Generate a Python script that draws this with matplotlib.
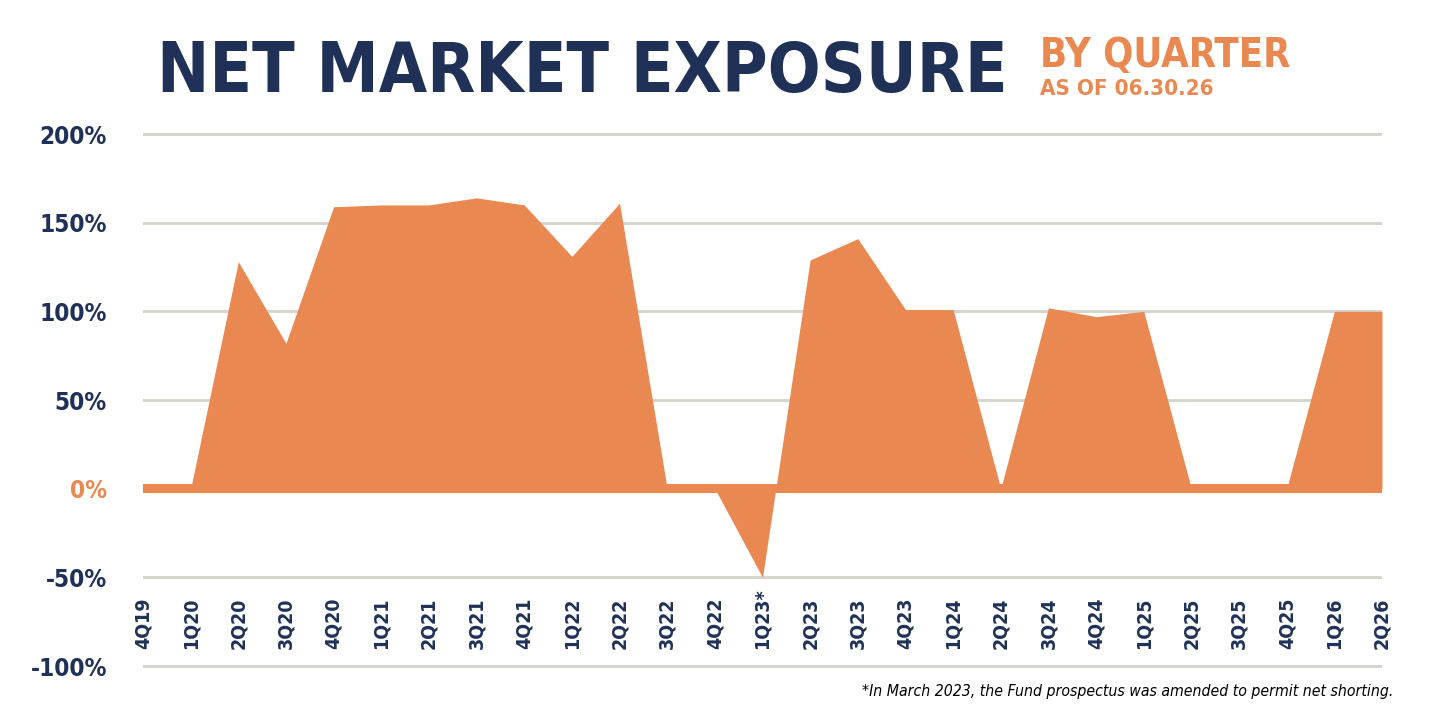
import matplotlib
matplotlib.use("Agg")
import matplotlib.pyplot as plt
import matplotlib.font_manager as fm

# data (percent net exposure by quarter)
quarters = ["4Q19", "1Q20", "2Q20", "3Q20", "4Q20", "1Q21", "2Q21", "3Q21", "4Q21",
            "1Q22", "2Q22", "3Q22", "4Q22", "1Q23*", "2Q23", "3Q23", "4Q23", "1Q24",
            "2Q24", "3Q24", "4Q24", "1Q25", "2Q25", "3Q25", "4Q25", "1Q26", "2Q26"]
exposure = [0, 0, 128, 82, 159, 160, 160, 164, 160,
            131, 161, 0, 0, -50, 129, 141, 101, 101,
            0, 102, 97, 100, 0, 0, 0, 100, 100]
yticks = [-100, -50, 0, 50, 100, 150, 200]
ytick_labels = ["-100%", "-50%", "0%", "50%", "100%", "150%", "200%"]

NAVY = "#203157"
ORANGE = "#E98951"
GRID = "#D6D6CF"

# pick a narrow / condensed face if one is around
avail = {f.name for f in fm.fontManager.ttflist}
if "Liberation Sans Narrow" in avail:
    FAM = "Liberation Sans Narrow"
    STRETCH = "normal"
elif "DejaVu Sans Condensed" in avail:
    FAM = "DejaVu Sans Condensed"
    STRETCH = "condensed"
else:
    FAM = "DejaVu Sans"
    STRETCH = "condensed"

W, H = 1440, 710
fig = plt.figure(figsize=(W / 100, H / 100), dpi=100)

# axes placed so that 200% sits at y=134px and -100% at y=666px
px_per = (666 - 134) / 300.0
ylo, yhi = -102, 202
top_px = 134 - (yhi - 200) * px_per
bot_px = 666 + (-100 - ylo) * px_per
ax = fig.add_axes([143 / W, 1 - bot_px / H, (1382 - 143) / W, (bot_px - top_px) / H])

x = list(range(len(quarters)))
ax.fill_between(x, 0, exposure, color=ORANGE, linewidth=0, zorder=2)
ax.axhspan(-2.5, 2.5, color=ORANGE, linewidth=0, zorder=2)

ax.set_xlim(0, len(quarters) - 1)
ax.set_ylim(ylo, yhi)
ax.set_yticks(yticks)
ax.set_yticklabels(ytick_labels)
ax.set_xticks([])
ax.yaxis.grid(True, color=GRID, linewidth=2.2, zorder=1)
ax.set_axisbelow(True)
ax.tick_params(axis="y", length=0, pad=26)
for s in ax.spines.values():
    s.set_visible(False)

for lab, v in zip(ax.get_yticklabels(), yticks):
    lab.set_fontfamily(FAM)
    lab.set_fontstretch(STRETCH)
    lab.set_fontweight("bold")
    lab.set_fontsize(17.5)
    lab.set_color(ORANGE if v == 0 else NAVY)

# quarter labels sit between the -50% and -100% lines
for i, q in enumerate(quarters):
    ax.text(i, -90.5, q, rotation=90, ha="center", va="bottom", fontsize=14,
            fontweight="bold", family=FAM, fontstretch=STRETCH, color=NAVY)

fig.text(157 / W, 1 - 92 / H, "NET MARKET EXPOSURE", fontsize=50, fontweight="bold",
         family=FAM, fontstretch=STRETCH, color=NAVY, va="baseline", ha="left")
fig.text(1040 / W, 1 - 67 / H, "BY QUARTER", fontsize=28.5, fontweight="bold",
         family=FAM, fontstretch=STRETCH, color=ORANGE, va="baseline", ha="left")
fig.text(1040 / W, 1 - 95 / H, "AS OF 06.30.26", fontsize=16, fontweight="bold",
         family=FAM, fontstretch=STRETCH, color=ORANGE, va="baseline", ha="left")

fig.text(1393 / W, 1 - 696 / H,
         "*In March 2023, the Fund prospectus was amended to permit net shorting.",
         fontsize=11.3, style="italic", family=FAM, fontstretch=STRETCH, color="black",
         va="baseline", ha="right")

fig.savefig("out.png", dpi=100)
